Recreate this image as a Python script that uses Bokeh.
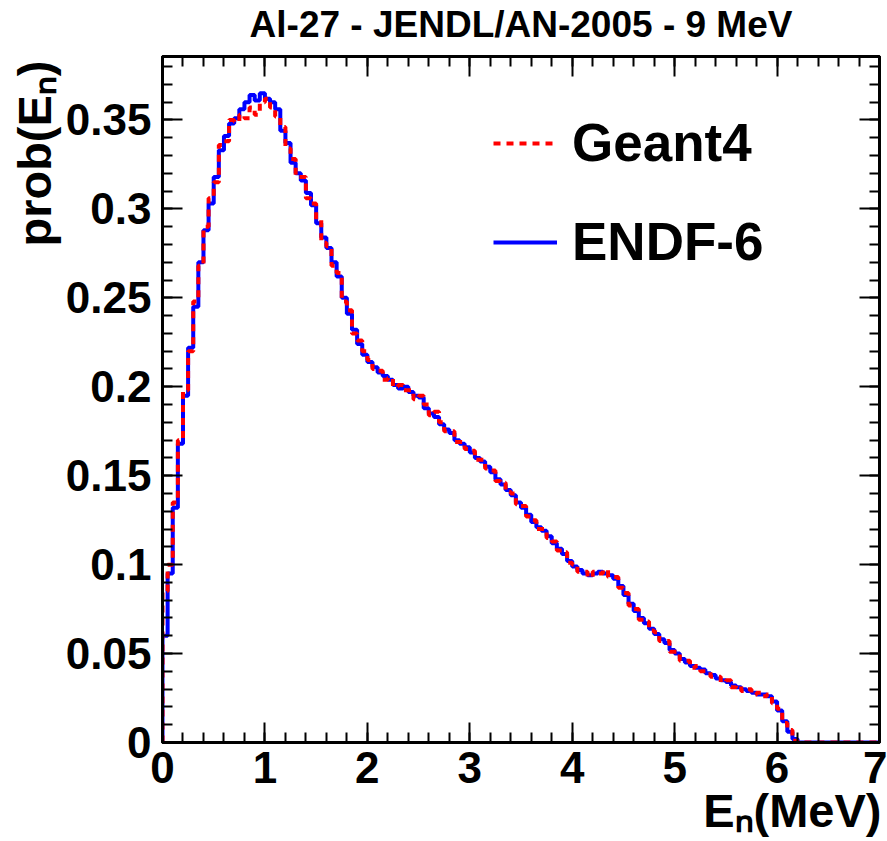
from bokeh.plotting import figure
from bokeh.models import (FixedTicker, LinearAxis, Legend, LegendItem, Title,
                          CustomJSTickFormatter)
from bokeh.embed import file_html
from bokeh.resources import INLINE

# ---------------- data ----------------
bin_width = 0.05          # MeV, bins from 0 to 7 MeV
endf6_prob = [
    0.060, 0.095, 0.132, 0.168, 0.195, 0.222, 0.245, 0.270, 0.288, 0.303,
    0.318, 0.333, 0.341, 0.348, 0.351, 0.356, 0.360, 0.364, 0.361, 0.365,
    0.362, 0.360, 0.356, 0.344, 0.337, 0.326, 0.320, 0.316, 0.309, 0.302,
    0.292, 0.284, 0.278, 0.270, 0.262, 0.250, 0.241, 0.232, 0.224, 0.218,
    0.214, 0.211, 0.208, 0.206, 0.204, 0.201, 0.199, 0.200, 0.197, 0.195,
    0.194, 0.188, 0.185, 0.183, 0.179, 0.176, 0.174, 0.170, 0.168, 0.166,
    0.163, 0.160, 0.158, 0.155, 0.152, 0.148, 0.145, 0.142, 0.139, 0.135,
    0.132, 0.128, 0.124, 0.121, 0.119, 0.116, 0.112, 0.109, 0.106, 0.102,
    0.099, 0.097, 0.095, 0.094, 0.095, 0.096, 0.095, 0.094, 0.092, 0.088,
    0.083, 0.078, 0.074, 0.070, 0.067, 0.064, 0.061, 0.058, 0.056, 0.052,
    0.050, 0.047, 0.045, 0.043, 0.042, 0.041, 0.039, 0.038, 0.036, 0.035,
    0.034, 0.032, 0.031, 0.030, 0.029, 0.028, 0.027, 0.027, 0.026, 0.023,
    0.018, 0.012, 0.006, 0.002, 0.0, 0.0, 0.0, 0.0, 0.0, 0.0,
    0.0, 0.0, 0.0, 0.0, 0.0, 0.0, 0.0, 0.0, 0.0, 0.0,
]
geant4_prob = [
    0.085, 0.100, 0.135, 0.170, 0.198, 0.220, 0.248, 0.268, 0.290, 0.306,
    0.315, 0.336, 0.338, 0.350, 0.349, 0.353, 0.351, 0.357, 0.353, 0.360,
    0.362, 0.357, 0.352, 0.346, 0.334, 0.328, 0.318, 0.318, 0.306, 0.303,
    0.294, 0.281, 0.279, 0.268, 0.264, 0.248, 0.243, 0.230, 0.226, 0.220,
    0.215, 0.210, 0.209, 0.204, 0.205, 0.200, 0.201, 0.198, 0.198, 0.193,
    0.195, 0.190, 0.184, 0.186, 0.180, 0.175, 0.175, 0.169, 0.169, 0.165,
    0.164, 0.159, 0.159, 0.154, 0.153, 0.147, 0.146, 0.141, 0.140, 0.134,
    0.133, 0.127, 0.125, 0.120, 0.120, 0.115, 0.113, 0.108, 0.107, 0.101,
    0.100, 0.096, 0.096, 0.093, 0.096, 0.095, 0.097, 0.093, 0.093, 0.087,
    0.084, 0.077, 0.075, 0.069, 0.068, 0.063, 0.062, 0.057, 0.057, 0.051,
    0.051, 0.046, 0.046, 0.042, 0.043, 0.040, 0.040, 0.037, 0.037, 0.034,
    0.035, 0.031, 0.032, 0.029, 0.030, 0.027, 0.028, 0.026, 0.027, 0.022,
    0.019, 0.011, 0.007, 0.001, 0.0, 0.0, 0.0, 0.0, 0.0, 0.0,
    0.0, 0.0, 0.0, 0.0, 0.0, 0.0, 0.0, 0.0, 0.0, 0.0,
]
x_tick_values = [0, 1, 2, 3, 4, 5, 6, 7]
x_tick_labels = ["0", "1", "2", "3", "4", "5", "6", "7"]
y_tick_values = [0, 0.05, 0.1, 0.15, 0.2, 0.25, 0.3, 0.35]
y_tick_labels = ["0", "0.05", "0.1", "0.15", "0.2", "0.25", "0.3", "0.35"]
title_text = "Al-27 - JENDL/AN-2005 - 9 MeV"
x_title = "E\u2099(MeV)"
y_title = "prob(E\u2099)"
series_names = ["Geant4", "ENDF-6"]

FONT = "Liberation Sans"
X_MAX = 7.0
Y_MAX = 0.3857


def hist_outline(vals):
    edges = [i * bin_width for i in range(len(vals) + 1)]
    xs = [0.0] + edges
    ys = [0.0] + list(vals) + [vals[-1]]
    return xs, ys


p = figure(width=887, height=841, x_range=(0, X_MAX), y_range=(0, Y_MAX),
           output_backend="svg", toolbar_location=None,
           min_border_left=162, min_border_right=8, min_border_top=56,
           min_border_bottom=99, background_fill_color="white",
           border_fill_color="white")
p.grid.visible = False
p.outline_line_color = "black"
p.outline_line_width = 3

xb, yb = hist_outline(endf6_prob)
xr, yr = hist_outline(geant4_prob)
r_blue = p.step(xb, yb, mode="after", line_color="#0000ff", line_width=4)
r_red = p.step(xr, yr, mode="after", line_color="#ff0000", line_width=4,
               line_dash="7 6")

x_minor = [i * 0.2 for i in range(36)]
y_minor = [i * 0.01 for i in range(39)]
empty_fmt = CustomJSTickFormatter(code="return ''")


def style_axis(ax, ticks, minor, labels):
    ax.ticker = FixedTicker(ticks=ticks, minor_ticks=minor)
    ax.axis_line_width = 3
    ax.axis_line_color = "black"
    ax.major_tick_line_width = 2
    ax.minor_tick_line_width = 2
    ax.major_tick_in = 20
    ax.major_tick_out = 0
    ax.minor_tick_in = 10
    ax.minor_tick_out = 0
    if labels is None:
        ax.formatter = empty_fmt
        ax.major_label_text_font_size = "2px"
        ax.major_label_standoff = 0
    else:
        ax.major_label_overrides = {v: s for v, s in zip(ticks, labels)}
        ax.major_label_text_font = FONT
        ax.major_label_text_font_style = "bold"
        ax.major_label_text_font_size = "44px"
        ax.major_label_text_color = "black"


style_axis(p.xaxis[0], x_tick_values, x_minor, x_tick_labels)
p.xaxis[0].major_label_standoff = 9
style_axis(p.yaxis[0], y_tick_values, y_minor, y_tick_labels)
p.yaxis[0].major_label_standoff = 11

top_ax = LinearAxis()
style_axis(top_ax, x_tick_values, x_minor, None)
p.add_layout(top_ax, "above")
right_ax = LinearAxis()
style_axis(right_ax, y_tick_values, y_minor, None)
p.add_layout(right_ax, "right")

# invisible spacer axis: lifts the title a little above the frame
spacer = LinearAxis(axis_line_color=None, major_tick_line_color=None,
                    minor_tick_line_color=None, major_tick_in=0,
                    major_tick_out=12, minor_tick_in=0, minor_tick_out=0,
                    formatter=empty_fmt, major_label_text_font_size="2px",
                    major_label_standoff=0)
p.add_layout(spacer, "above")

# ---------------- titles ----------------
p.title.text = title_text
p.title.align = "center"
p.title.text_font = FONT
p.title.text_font_style = "bold"
p.title.text_font_size = "37px"
p.title.text_color = "black"
p.title.standoff = 0
p.title.offset = 0

p.add_layout(Title(text=x_title, align="right", text_font=FONT,
                   text_font_style="bold", text_font_size="47px",
                   text_color="black", standoff=-8, offset=-2), "below")
p.add_layout(Title(text=y_title, align="right", text_font=FONT,
                   text_font_style="bold", text_font_size="47px",
                   text_color="black", standoff=4, offset=4), "left")

# ---------------- legend ----------------
legend = Legend(items=[LegendItem(label=series_names[0], renderers=[r_red]),
                       LegendItem(label=series_names[1], renderers=[r_blue])],
                location=(331, 470), orientation="vertical")
legend.glyph_width = 64
legend.glyph_height = 40
legend.label_standoff = 15
legend.spacing = 38
legend.padding = 0
legend.margin = 0
legend.border_line_color = None
legend.background_fill_alpha = 0
legend.label_text_font = FONT
legend.label_text_font_style = "bold"
legend.label_text_font_size = "53px"
legend.label_text_color = "black"
p.add_layout(legend)

open("out.html", "w").write(file_html(p, INLINE))
